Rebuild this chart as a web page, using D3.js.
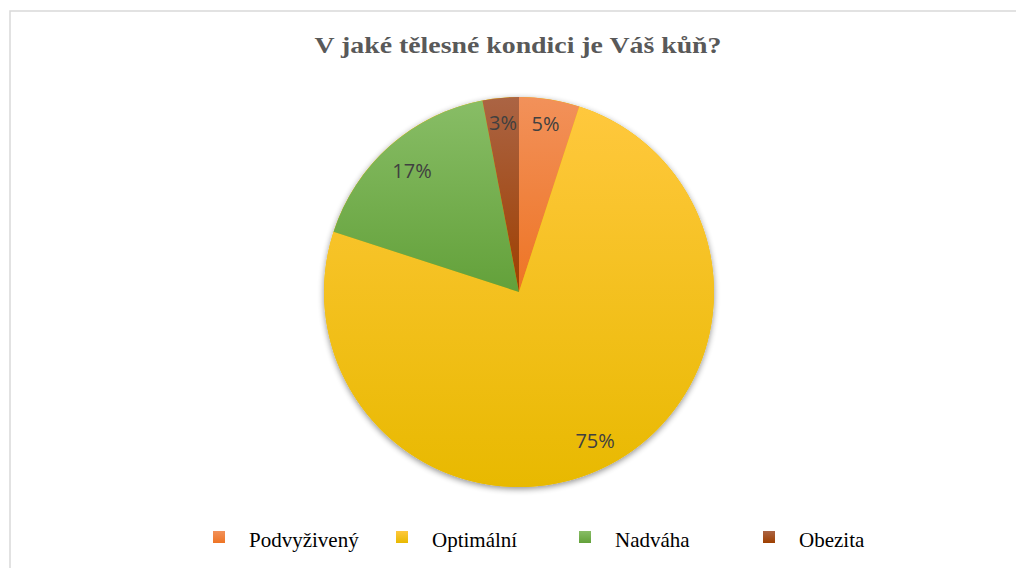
<!DOCTYPE html>
<html>
<head>
<meta charset="utf-8">
<script src="https://cdn.jsdelivr.net/npm/d3@7"></script>
<style>
  body { margin: 0; background: #fff; }
</style>
</head>
<body>
<div id="chart"></div>
<script>
// data
const categories = ["Podvyživený", "Optimální", "Nadváha", "Obezita"];
const values = [5, 75, 17, 3];
const labels = ["5%", "75%", "17%", "3%"];
const topColors = ["#f2915a", "#ffc83d", "#88bd66", "#ab6444"];
const bottomColors = ["#ee7424", "#e8b900", "#63a13a", "#9e3f00"];

let width = 1016, height = 568;
let cx = 519, cy = 292, radius = 195;

let svg = d3.select("#chart").append("svg")
    .attr("width", width).attr("height", height);

let defs = svg.append("defs");

// chart frame
svg.append("rect")
    .attr("x", 10).attr("y", 11)
    .attr("width", width + 20).attr("height", height + 20)
    .attr("fill", "white")
    .attr("stroke", "#d9d9d9")
    .attr("stroke-width", 1.5);

svg.append("text")
    .attr("x", 518).attr("y", 53)
    .attr("text-anchor", "middle")
    .style("font-family", "'Liberation Serif', 'Times New Roman', serif")
    .style("font-weight", "bold")
    .style("font-size", "24px")
    .attr("fill", "#595959")
    .attr("textLength", 407)
    .attr("lengthAdjust", "spacingAndGlyphs")
    .text("V jaké tělesné kondici je Váš kůň?");

// gradients, one per slice
categories.forEach(function(c, i) {
    let g = defs.append("linearGradient")
        .attr("id", "grad" + i)
        .attr("x1", 0).attr("y1", 0).attr("x2", 0).attr("y2", 1);
    g.append("stop").attr("offset", "0%").attr("stop-color", topColors[i]);
    g.append("stop").attr("offset", "100%").attr("stop-color", bottomColors[i]);
});

let shadow = defs.append("filter").attr("id", "shadow")
    .attr("x", "-10%").attr("y", "-10%").attr("width", "120%").attr("height", "120%");
shadow.append("feGaussianBlur").attr("in", "SourceAlpha").attr("stdDeviation", 3);
shadow.append("feOffset").attr("dx", 0).attr("dy", 2).attr("result", "blur");
shadow.append("feComponentTransfer").append("feFuncA").attr("type", "linear").attr("slope", 0.45);
let merge = shadow.append("feMerge");
merge.append("feMergeNode");
merge.append("feMergeNode").attr("in", "SourceGraphic");

let pie = d3.pie().sort(null).value(d => d);
let arcs = pie(values);
let arc = d3.arc().innerRadius(0).outerRadius(radius);

let pie_g = svg.append("g")
    .attr("transform", "translate(" + cx + "," + cy + ")");

pie_g.append("circle")
    .attr("r", radius)
    .attr("fill", "#e8b900")
    .attr("filter", "url(#shadow)");

pie_g.selectAll("path")
    .data(arcs)
    .enter()
    .append("path")
    .attr("d", arc)
    .attr("fill", (d, i) => "url(#grad" + i + ")");

// label positions: Excel puts them inside near the rim
let labelRadius = [0.87, 0.86, 0.83, 0.87];
pie_g.selectAll("text.lbl")
    .data(arcs)
    .enter()
    .append("text")
    .attr("class", "lbl")
    .attr("transform", function(d, i) {
        let a = (d.startAngle + d.endAngle) / 2;
        let r = radius * labelRadius[i];
        return "translate(" + (Math.sin(a) * r) + "," + (-Math.cos(a) * r) + ")";
    })
    .attr("text-anchor", "middle")
    .attr("dy", "0.35em")
    .style("font-family", "'Open Sans', 'Noto Sans', sans-serif")
    .style("font-size", "20px")
    .attr("fill", "#404040")
    .text((d, i) => labels[i]);

// legend
let legendX = [213, 396, 579, 763];
let legend = svg.append("g");
let items = legend.selectAll("g")
    .data(categories)
    .enter()
    .append("g")
    .attr("transform", (d, i) => "translate(" + legendX[i] + ",531)");

items.append("rect")
    .attr("width", 12).attr("height", 12)
    .attr("fill", (d, i) => "url(#grad" + i + ")");

items.append("text")
    .attr("x", 36).attr("y", 16)
    .style("font-family", "'Liberation Serif', 'Times New Roman', serif")
    .style("font-size", "21px")
    .attr("fill", "#000")
    .text(d => d);
</script>
</body>
</html>
